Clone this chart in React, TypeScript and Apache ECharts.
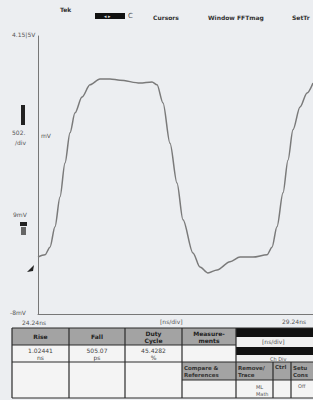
import React, { useEffect, useRef } from "react";
import * as echarts from "echarts";

// Waveform (time in ns, voltage in V)
const times = [24.24, 24.367, 24.458, 24.549, 24.64, 24.731, 24.822, 24.913, 25.04, 25.185, 25.367, 25.549, 25.731, 26.095, 26.313, 26.404, 26.513, 26.64, 26.767, 26.876, 27.058, 27.185, 27.331, 27.495, 27.731, 27.913, 28.149, 28.404, 28.495, 28.585, 28.695, 28.785, 28.876, 29.004, 29.131, 29.24];
const volts = [0.10, 0.14, 0.27, 0.62, 1.13, 1.71, 2.23, 2.57, 2.84, 3.05, 3.15, 3.15, 3.13, 3.08, 3.10, 3.05, 2.74, 2.05, 1.37, 0.74, 0.17, -0.07, -0.17, -0.12, 0.02, 0.10, 0.10, 0.14, 0.27, 0.62, 1.20, 1.76, 2.28, 2.67, 2.91, 3.08];

const menuItems = ["Cursors", "Window", "FFTmag", "SetTr"];
const measureNames = ["Rise", "Fall", "Duty\nCycle", "Measure-\nments"];
const measureValues = ["1.02441\nns", "505.07\nps", "45.4282\n%"];
const timeLabels = ["24.24ns", "[ns/div]", "29.24ns"];
const voltLabels = ["4.15|5V", "-8mV"];

const BG = "#eceef1";
const TXT = "#555";
const FONT = "DejaVu Sans";

export default function App() {
  const ref = useRef<HTMLDivElement>(null);
  useEffect(() => {
    if (!ref.current) return;
    const chart = echarts.init(ref.current, undefined, { renderer: "svg" });
    const t = (x: number, y: number, text: string, size = 6, extra: any = {}) => ({
      type: "text",
      x,
      y,
      style: { text, fill: TXT, fontSize: size, fontFamily: FONT, ...extra },
    });
    const rect = (x: number, y: number, w: number, h: number, fill: string, stroke = "none") => ({
      type: "rect",
      shape: { x, y, width: w, height: h },
      style: { fill, stroke, lineWidth: 1 },
    });
    const cols = [12, 69, 125, 182, 236];
    const B = { fontWeight: "bold", fill: "#333" };
    const graphic: any[] = [
      // menu bar
      t(60, 6, "Tek", 6, B),
      rect(95, 13, 30, 6, "#111"),
      t(104, 13, "◂ ▸", 5, { fill: "#ddd" }),
      t(128, 12, "C", 7),
      t(153, 14, menuItems[0], 6, B),
      t(208, 14, menuItems[1], 6, B),
      t(237, 14, menuItems[2], 6, B),
      t(292, 14, menuItems[3], 6, B),
      // axis labels
      t(12, 31, voltLabels[0], 6),
      t(10, 309, voltLabels[1], 6),
      t(22, 319, timeLabels[0], 6),
      t(160, 318, timeLabels[1], 6),
      t(282, 318, timeLabels[2], 6),
      // channel markers
      rect(21, 105, 4, 20, "#222"),
      t(12, 129, "502.", 6),
      t(41, 132, "mV", 6),
      t(15, 139, "/div", 6),
      t(13, 211, "9mV", 6),
      rect(20, 222, 7, 4, "#222"),
      rect(21, 227, 5, 8, "#666"),
      { type: "polygon", shape: { points: [[27, 272], [34, 265], [33, 271]] }, style: { fill: "#222" } },
      // table
      rect(12, 328, 224, 17, "#a3a3a3"),
      rect(12, 345, 224, 17, "#f4f4f4"),
      rect(12, 362, 170, 36, "#f4f4f4"),
      rect(182, 362, 54, 18, "#a3a3a3"),
      rect(182, 380, 54, 18, "#f4f4f4"),
      // right side panel
      rect(236, 328, 80, 9, "#111"),
      rect(236, 337, 80, 10, "#f0f0f0"),
      rect(236, 347, 80, 8, "#111"),
      rect(236, 355, 80, 7, "#f0f0f0"),
      rect(236, 362, 80, 18, "#a3a3a3"),
      rect(236, 380, 80, 18, "#f4f4f4"),
      t(262, 338, "[ns/div]", 6),
      t(270, 356, "Ch Div", 5),
      t(184, 364, "Compare &\nReferences", 5.5, { ...B, lineHeight: 7 }),
      t(238, 364, "Remove/\nTrace", 5.5, { ...B, lineHeight: 7 }),
      t(275, 364, "Ctrl", 5.5, B),
      t(293, 364, "Setu\nCons", 5.5, { ...B, lineHeight: 7 }),
      t(256, 383, "ML\nMath", 5, { lineHeight: 7 }),
      t(298, 383, "Off", 5),
    ];
    const lineStyle = { stroke: "#2a2a2a", lineWidth: 1.2 };
    const hl = (x1: number, y: number, x2: number) => graphic.push({ type: "line", shape: { x1, y1: y, x2, y2: y }, style: lineStyle });
    hl(12, 328, 313);
    hl(12, 345, 236);
    hl(12, 362, 313);
    hl(182, 380, 313);
    hl(12, 398, 313);
    [...cols].forEach((c) => graphic.push({ type: "line", shape: { x1: c, y1: 328, x2: c, y2: 398 }, style: lineStyle }));
    graphic.push({ type: "line", shape: { x1: 273, y1: 362, x2: 273, y2: 398 }, style: lineStyle });
    graphic.push({ type: "line", shape: { x1: 291, y1: 362, x2: 291, y2: 398 }, style: lineStyle });
    measureNames.forEach((n, i) => {
      graphic.push({
        type: "text",
        x: (cols[i] + cols[i + 1]) / 2,
        y: 336.5,
        style: { text: n, fill: "#222", fontSize: 6, fontFamily: FONT, fontWeight: "bold", align: "center", verticalAlign: "middle", lineHeight: 7 },
      });
    });
    measureValues.forEach((v, i) => {
      graphic.push({
        type: "text",
        x: (cols[i] + cols[i + 1]) / 2,
        y: 353.5,
        style: { text: v, fill: "#444", fontSize: 6, fontFamily: FONT, align: "center", verticalAlign: "middle", lineHeight: 7 },
      });
    });

    chart.setOption({
      animation: false,
      backgroundColor: BG,
      grid: { left: 38, right: 0, top: 36, bottom: 86 },
      xAxis: {
        type: "value",
        min: 24.24,
        max: 29.24,
        axisLine: { show: true, onZero: false, lineStyle: { color: "#777", width: 1 } },
        axisTick: { show: false },
        axisLabel: { show: false },
        splitLine: { show: false },
      },
      yAxis: {
        type: "value",
        min: -0.874,
        max: 3.886,
        axisLine: { show: true, onZero: false, lineStyle: { color: "#777", width: 1 } },
        axisTick: { show: false },
        axisLabel: { show: false },
        splitLine: { show: false },
      },
      series: [
        {
          type: "line",
          data: times.map((x, i) => [x, volts[i]]),
          smooth: 0.3,
          smoothMonotone: "x",
          showSymbol: false,
          lineStyle: { color: "#7a7a7a", width: 1.5 },
        },
      ],
      graphic,
    });
    return () => chart.dispose();
  }, []);
  return <div ref={ref} style={{ position: "absolute", left: 0, top: 0, width: 313, height: 400 }} />;
}
